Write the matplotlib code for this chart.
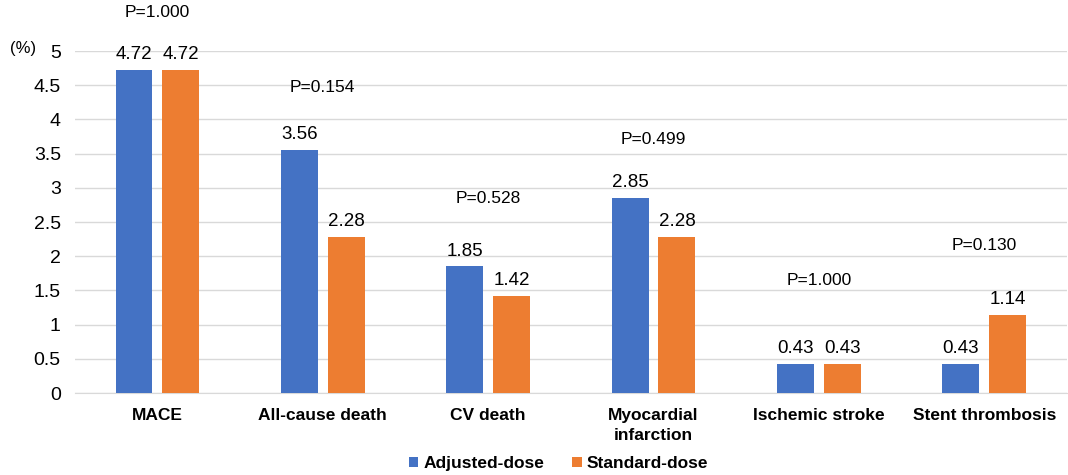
import numpy as np
import matplotlib
matplotlib.use('Agg')
import matplotlib.pyplot as plt

# -- data
categories = ['MACE', 'All-cause death', 'CV death', 'Myocardial\ninfarction',
              'Ischemic stroke', 'Stent thrombosis']
adjusted   = [4.72, 3.56, 1.85, 2.85, 0.43, 0.43]
standard   = [4.72, 2.28, 1.42, 2.28, 0.43, 1.14]
pvals      = ['P=1.000', 'P=0.154', 'P=0.528', 'P=0.499', 'P=1.000', 'P=0.130']
yticks     = [0, 0.5, 1, 1.5, 2, 2.5, 3, 3.5, 4, 4.5, 5]

# -- layout
pY   = [5.56, 4.46, 2.85, 3.70, 1.65, 2.15]                              #heights of the P labels
bw   = 0.223
gap  = 0.06
cBlue, cOrange = '#4472C4', '#ED7D31'

plt.rcParams['font.family'] = ['Liberation Sans', 'DejaVu Sans']
plt.rcParams['font.size'] = 12.5

fig = plt.figure(figsize=(10.68, 4.75), dpi=100)
ax = fig.add_axes([0.070, 0.1726, 0.929, 0.72])

x = np.arange(len(categories))
off = bw/2 + gap/2
b1 = ax.bar(x - off, adjusted, bw, color=cBlue, label='Adjusted-dose', zorder=3)
b2 = ax.bar(x + off, standard, bw, color=cOrange, label='Standard-dose', zorder=3)

for bars, vals in ((b1, adjusted), (b2, standard)):
    for r, v in zip(bars, vals):
        ax.text(r.get_x() + r.get_width()/2, v + 0.1, '%.2f' % v,
                ha='center', va='bottom', fontsize=13.5)

for xi, p, yp in zip(x, pvals, pY):
    ax.text(xi, yp, p, ha='center', va='center', fontsize=12.5, clip_on=False)

ax.set_xlim(-0.5, len(categories) - 0.5)
ax.set_ylim(0, 5)
ax.set_yticks(yticks)
ax.set_yticklabels(['%g' % t for t in yticks], fontsize=14)
ax.set_xticks(x)
ax.set_xticklabels(categories, fontweight='bold', fontsize=12.5, linespacing=1.4)
ax.tick_params(axis='both', length=0)
ax.tick_params(axis='y', pad=10)
ax.tick_params(axis='x', pad=11)
ax.yaxis.grid(True, color='#D9D9D9', lw=1, zorder=0)
for s in ['top', 'right', 'left']:
    ax.spines[s].set_visible(False)
ax.spines['bottom'].set_color('#D9D9D9')

fig.text(10/1068, 1 - 48/475, '(%)', ha='left', va='center', fontsize=12)

leg = fig.legend(loc='lower center', bbox_to_anchor=(0.523, -0.025), ncol=2, frameon=False,
                 handlelength=0.55, handleheight=0.55, handletextpad=0.3, columnspacing=1.6,
                 prop={'weight': 'bold', 'size': 12.5})

plt.savefig('out.png', dpi=100)
